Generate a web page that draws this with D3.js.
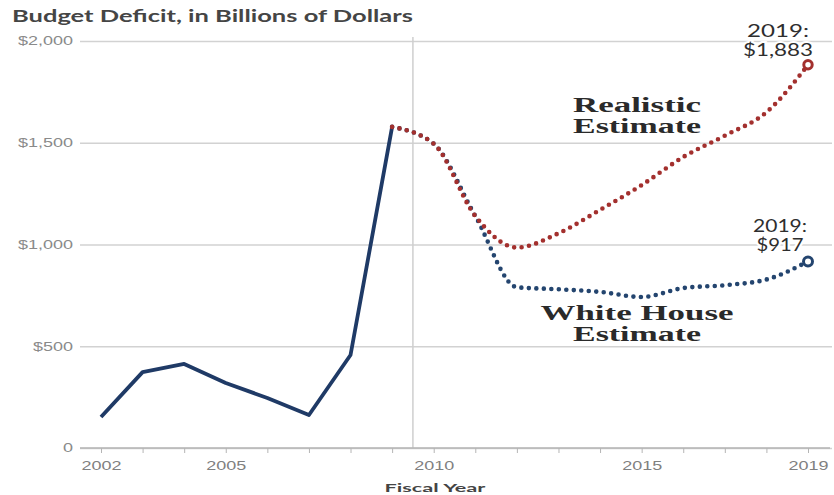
<!DOCTYPE html>
<html>
<head>
<meta charset="utf-8">
<script src="https://cdn.jsdelivr.net/npm/d3@7"></script>
<style>
body { margin: 0; background: #fff; }
</style>
</head>
<body>
<div id="chart"></div>
<script>
"use strict";

// Budget deficit, billions of dollars
var actualYears = [2002, 2003, 2004, 2005, 2006, 2007, 2008, 2009];
var actualDeficit = [152, 373, 413, 319, 246, 162, 457, 1578];

var projYears = [2009, 2010, 2011, 2012, 2013, 2014, 2015, 2016, 2017, 2018, 2019];
var realisticDeficit = [1578, 1495, 1140, 985, 1055, 1170, 1292, 1430, 1535, 1650, 1883];
var whiteHouseDeficit = [1578, 1495, 1140, 790, 780, 767, 742, 786, 800, 828, 917];

var yTicks = [0, 500, 1000, 1500, 2000];
var xLabelYears = [2002, 2005, 2010, 2015, 2019];
var allYears = d3.range(2002, 2020);

//Visualization parameters
var svgWidth = 834;
var svgHeight = 495;
var navy = "#1f3a66";
var darkRed = "#a3302e";
var dotBlue = "#24456f";

var svg = d3.select("#chart")
    .append("svg")
    .attr("width", svgWidth)
    .attr("height", svgHeight)
    .style("font-family", "Lato, 'Open Sans', sans-serif");

var x = d3.scaleLinear().domain([2002, 2019]).range([101, 808]);
var y = d3.scaleLinear().domain([0, 2000]).range([448, 41]);

//squeeze / stretch text horizontally about its anchor
function stretch(sel, k) {
    sel.each(function () {
        var t = d3.select(this);
        var tx = +t.attr("x") || 0, ty = +t.attr("y") || 0;
        t.attr("x", 0).attr("y", 0)
         .attr("transform", "translate(" + tx + "," + ty + ") scale(" + k + ",1)");
    });
}
function fit(sel, w) {
    sel.each(function () {
        var k = w / this.getComputedTextLength();
        stretch(d3.select(this), k);
    });
}

//Title
svg.append("text")
    .attr("x", 12).attr("y", 22)
    .attr("font-size", 17)
    .attr("font-weight", "bold")
    .attr("fill", "#454545")
    .text("Budget Deficit, in Billions of Dollars")
    .call(fit, 401);

//Horizontal gridlines + y labels
var yAxis = svg.append("g")
    .attr("transform", "translate(80,0)")
    .call(d3.axisLeft(y)
        .tickValues(yTicks)
        .tickSize(-752)
        .tickPadding(7)
        .tickFormat(function (d) { return d === 0 ? "0" : "$" + d3.format(",")(d); }));
yAxis.select(".domain").remove();
yAxis.selectAll(".tick line")
    .attr("stroke", "#d2d2d2")
    .attr("stroke-width", 1.3);
yAxis.selectAll(".tick text")
    .attr("font-size", 12)
    .attr("fill", "#8a8a8a")
    .call(stretch, 1.5);

//Vertical divider between actual and projected
svg.append("line")
    .attr("x1", x(2009.5)).attr("x2", x(2009.5))
    .attr("y1", 37).attr("y2", 448)
    .attr("stroke", "#cfcfcf")
    .attr("stroke-width", 1.5);

//X axis
var xAxis = svg.append("g")
    .attr("transform", "translate(0,448)")
    .call(d3.axisBottom(x)
        .tickValues(allYears)
        .tickSize(5)
        .tickPadding(8)
        .tickFormat(function (d) { return xLabelYears.indexOf(d) >= 0 ? d : ""; }));
xAxis.select(".domain")
    .attr("d", "M80,0H830")
    .attr("stroke", "#b5b5b5")
    .attr("stroke-width", 1.3);
xAxis.selectAll(".tick line").attr("stroke", "#b5b5b5");
xAxis.selectAll(".tick text")
    .attr("font-size", 12)
    .attr("fill", "#808080")
    .call(stretch, 1.5);

svg.append("text")
    .attr("x", 435).attr("y", 492)
    .attr("text-anchor", "middle")
    .attr("font-size", 12)
    .attr("font-weight", "bold")
    .attr("fill", "#444")
    .text("Fiscal Year")
    .call(fit, 101);

//Lines
var actualLine = d3.line()
    .x(function (d, i) { return x(actualYears[i]); })
    .y(function (d) { return y(d); });

var projLine = d3.line()
    .x(function (d, i) { return x(projYears[i]); })
    .y(function (d) { return y(d); })
    .curve(d3.curveMonotoneX);

svg.append("path")
    .datum(actualDeficit)
    .attr("d", actualLine)
    .attr("fill", "none")
    .attr("stroke", navy)
    .attr("stroke-width", 3.8)
    .attr("stroke-linejoin", "round");

svg.append("path")
    .datum(whiteHouseDeficit)
    .attr("d", projLine)
    .attr("fill", "none")
    .attr("stroke", dotBlue)
    .attr("stroke-width", 4.6)
    .attr("stroke-linecap", "round")
    .attr("stroke-dasharray", "0 7.5");

svg.append("path")
    .datum(realisticDeficit)
    .attr("d", projLine)
    .attr("fill", "none")
    .attr("stroke", darkRed)
    .attr("stroke-width", 4.6)
    .attr("stroke-linecap", "round")
    .attr("stroke-dasharray", "0 7.5");

//End markers
var last = projYears.length - 1;
svg.append("circle")
    .attr("cx", x(projYears[last])).attr("cy", y(realisticDeficit[last]))
    .attr("r", 4.2)
    .attr("fill", "#fff")
    .attr("stroke", darkRed)
    .attr("stroke-width", 3);
svg.append("circle")
    .attr("cx", x(projYears[last])).attr("cy", y(whiteHouseDeficit[last]))
    .attr("r", 4.5)
    .attr("fill", "#fff")
    .attr("stroke", dotBlue)
    .attr("stroke-width", 3);

//Annotations
function endLabel(lines, cx, y0, widths) {
    lines.forEach(function (s, i) {
        svg.append("text")
            .attr("x", cx).attr("y", y0 + i * 19)
            .attr("text-anchor", "middle")
            .attr("font-size", 17)
            .attr("fill", "#2e2e2e")
            .attr("stroke", "#fff")
            .attr("stroke-width", 4)
            .attr("paint-order", "stroke")
            .text(s)
            .call(fit, widths[i]);
    });
}
endLabel(["2019:", "$" + d3.format(",")(realisticDeficit[last])], 778, 37, [62, 70]);
endLabel(["2019:", "$" + whiteHouseDeficit[last]], 780, 232, [54, 47]);

function seriesLabel(lines, cx, y0, widths) {
    lines.forEach(function (s, i) {
        svg.append("text")
            .attr("x", cx).attr("y", y0 + i * 21)
            .attr("text-anchor", "middle")
            .attr("font-family", "'Liberation Serif', 'DejaVu Serif', serif")
            .attr("font-size", 21)
            .attr("font-weight", "bold")
            .attr("fill", "#2a2a2a")
            .text(s)
            .call(fit, widths[i]);
    });
}
seriesLabel(["Realistic", "Estimate"], 637, 112, [128, 128]);
seriesLabel(["White House", "Estimate"], 637, 320, [193, 128]);
</script>
</body>
</html>
